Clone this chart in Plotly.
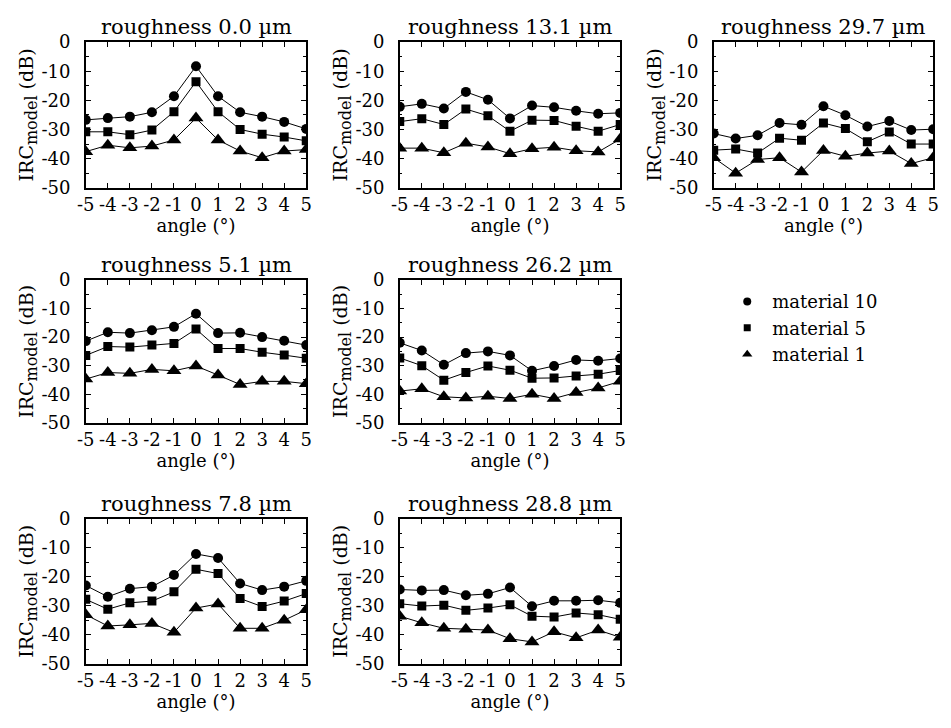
import plotly.graph_objects as go

angles = [-5, -4, -3, -2, -1, 0, 1, 2, 3, 4, 5]
angle_labels = ["-5", "-4", "-3", "-2", "-1", "0", "1", "2", "3", "4", "5"]
roughness_labels = ["0.0", "5.1", "7.8", "13.1", "26.2", "28.8", "29.7"]
materials = ["material 10", "material 5", "material 1"]

# values (dB), one list per material for each roughness
r00_m10 = [-26.7, -26.1, -25.6, -24.1, -18.6, -8.3, -18.6, -24.1, -25.6, -27.4, -29.8]
r00_m5 = [-30.8, -30.8, -31.8, -30.2, -23.9, -13.6, -23.9, -30.0, -31.6, -32.6, -33.9]
r00_m1 = [-37.6, -35.4, -36.3, -35.7, -33.6, -26.1, -33.6, -37.4, -39.7, -37.4, -36.9]

r51_m10 = [-21.4, -18.3, -18.6, -17.6, -16.4, -11.8, -18.6, -18.5, -20.0, -21.3, -22.8]
r51_m5 = [-26.4, -23.3, -23.5, -22.8, -22.2, -17.2, -24.0, -24.0, -25.3, -26.3, -27.4]
r51_m1 = [-34.7, -32.4, -32.7, -31.3, -31.8, -30.1, -33.3, -36.6, -35.5, -35.5, -36.3]

r78_m10 = [-23.0, -26.9, -24.1, -23.4, -19.4, -12.1, -13.5, -22.3, -24.6, -23.4, -21.4]
r78_m5 = [-27.8, -31.2, -29.0, -28.4, -25.2, -17.4, -18.9, -27.5, -30.3, -28.4, -25.8]
r78_m1 = [-33.1, -37.0, -36.6, -36.1, -39.2, -30.8, -29.4, -37.8, -37.8, -35.0, -31.4]

r131_m10 = [-22.2, -21.2, -22.8, -17.1, -19.8, -26.2, -21.8, -22.4, -23.6, -24.6, -24.3]
r131_m5 = [-27.3, -26.3, -28.3, -23.0, -25.3, -30.6, -26.8, -26.9, -28.9, -30.6, -28.3]
r131_m1 = [-36.4, -36.4, -38.0, -34.7, -36.0, -38.3, -36.6, -36.1, -37.3, -37.7, -33.3]

r262_m10 = [-22.0, -24.7, -29.7, -25.6, -25.0, -26.4, -31.8, -30.1, -28.0, -28.3, -27.5]
r262_m5 = [-27.3, -30.0, -35.1, -32.4, -30.1, -31.6, -34.4, -34.3, -33.6, -33.0, -31.7]
r262_m1 = [-38.9, -38.1, -40.9, -41.3, -40.7, -41.5, -40.0, -41.5, -39.4, -37.8, -35.5]

r288_m10 = [-24.4, -24.7, -24.6, -26.4, -25.9, -23.7, -30.2, -28.3, -28.3, -28.1, -29.0]
r288_m5 = [-29.3, -30.1, -29.8, -31.6, -30.8, -29.7, -33.6, -33.9, -32.5, -33.1, -34.7]
r288_m1 = [-33.6, -35.9, -37.8, -38.1, -38.4, -41.4, -42.5, -39.0, -41.1, -38.4, -40.9]

r297_m10 = [-31.4, -33.1, -32.0, -27.8, -28.4, -22.0, -25.1, -29.0, -27.1, -30.2, -29.9]
r297_m5 = [-37.1, -36.7, -38.1, -33.0, -33.7, -27.8, -29.7, -34.2, -30.9, -35.0, -35.0]
r297_m1 = [-39.7, -45.0, -40.3, -39.7, -44.6, -37.2, -39.2, -38.1, -37.4, -41.7, -39.7]

y_ticks = [0, -10, -20, -30, -40, -50]
y_tick_labels = ["0", "-10", "-20", "-30", "-40", "-50"]

panels = [
    ("0.0", [r00_m10, r00_m5, r00_m1]),
    ("5.1", [r51_m10, r51_m5, r51_m1]),
    ("7.8", [r78_m10, r78_m5, r78_m1]),
    ("13.1", [r131_m10, r131_m5, r131_m1]),
    ("26.2", [r262_m10, r262_m5, r262_m1]),
    ("28.8", [r288_m10, r288_m5, r288_m1]),
    ("29.7", [r297_m10, r297_m5, r297_m1]),
]

W, H = 951, 728
col_px = [(78, 302), (397, 621), (716, 939)]
row_px = [(32, 182), (277, 424), (523, 672)]
# panel positions: (col, row)
pos = [(0, 0), (0, 1), (0, 2), (1, 0), (1, 1), (1, 2), (2, 0)]

symbols = ["circle", "square", "triangle-up"]
sizes = [10, 9, 13]
FONT = "DejaVu Serif"

fig = go.Figure()
annotations = []
for i, ((label, series), (c, r)) in enumerate(zip(panels, pos)):
    ax = "" if i == 0 else str(i + 1)
    xd = [col_px[c][0] / W, col_px[c][1] / W]
    yd = [1 - row_px[r][1] / H, 1 - row_px[r][0] / H]
    for s, sym, sz in zip(series, symbols, sizes):
        fig.add_trace(go.Scatter(
            x=angles, y=s, mode="lines+markers", showlegend=False,
            line=dict(color="black", width=1),
            marker=dict(symbol=sym, size=sz, color="black", line=dict(width=0)),
            xaxis="x" + ax, yaxis="y" + ax,
        ))
    axis_common = dict(showline=True, linecolor="black", linewidth=1.5, mirror="allticks",
                       ticks="inside", tickcolor="black", showgrid=False, zeroline=False,
                       tickfont=dict(family=FONT, size=18, color="black"))
    fig.layout["xaxis" + ax] = dict(
        domain=xd, anchor="y" + ax, range=[-5, 5], tickvals=angles, ticktext=angle_labels,
        tickangle=0, ticklen=5, ticklabelstandoff=0,
        title=dict(text="angle (°)", font=dict(family=FONT, size=18, color="black"), standoff=0),
        **axis_common)
    fig.layout["yaxis" + ax] = dict(
        domain=yd, anchor="x" + ax, range=[-50, 0], tickvals=y_ticks, ticktext=y_tick_labels,
        ticklen=5, ticklabelstandoff=10, minor=dict(dtick=5, ticks="inside", ticklen=3, tickcolor="black"),
        title=dict(text="IRC<sub><span style='font-size:16px'>model</span></sub> (dB)",
                   font=dict(family=FONT, size=19, color="black"), standoff=0),
        **axis_common)
    annotations.append(dict(
        text="roughness " + label + " µm", x=(xd[0] + xd[1]) / 2, y=yd[1], xref="paper", yref="paper",
        xanchor="center", yanchor="bottom", yshift=1, showarrow=False,
        font=dict(family=FONT, size=21, color="black")))

for name, sym, sz in zip(materials, symbols, [8, 7, 9]):
    fig.add_trace(go.Scatter(x=[None], y=[None], mode="markers", name=name,
                             marker=dict(symbol=sym, size=sz, color="black")))

fig.update_layout(
    width=W, height=H, margin=dict(l=0, r=0, t=0, b=0),
    paper_bgcolor="white", plot_bgcolor="white",
    annotations=annotations,
    legend=dict(x=0.762, y=0.615, xanchor="left", yanchor="top",
                font=dict(family=FONT, size=18, color="black"), itemwidth=40,
                bgcolor="rgba(0,0,0,0)"),
)

fig.write_html("out.html")
